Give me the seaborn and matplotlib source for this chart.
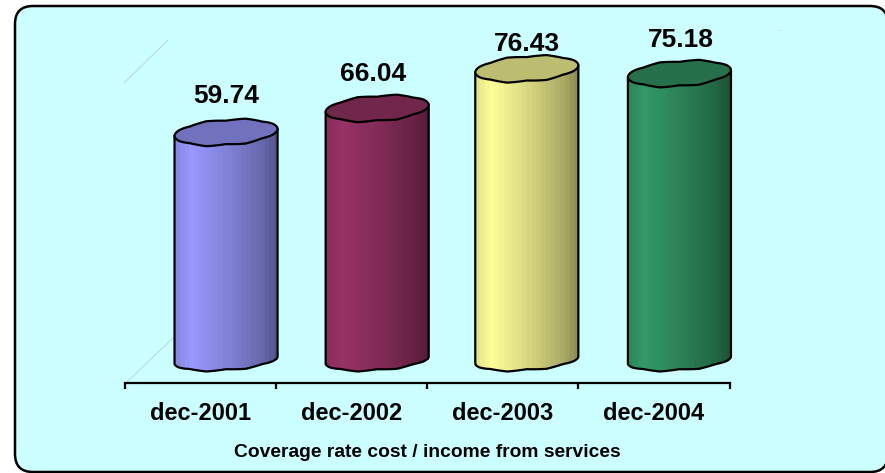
import numpy as np
import pandas as pd
import seaborn as sns
import matplotlib
matplotlib.use("Agg")
import matplotlib.pyplot as plt
from matplotlib.colors import LinearSegmentedColormap, to_rgb
from matplotlib.lines import Line2D
from matplotlib.patches import FancyBboxPatch, Polygon
from matplotlib.transforms import IdentityTransform

categories = ["dec-2001", "dec-2002", "dec-2003", "dec-2004"]
values = [59.74, 66.04, 76.43, 75.18]
colors = ["#9999FF", "#993366", "#FFFF99", "#339966"]
title = "Coverage rate cost / income from services"
label_shift_px = [(0, 36), (-4, 34), (0, 25), (1, 34)]
bar_nudge_px = [0, 0, -1.5, 0]
wobble_px = [0.0, 0.6, -0.8, 0.9, -0.8, 1.0, -0.7, 0.5, 0.0, -0.6, 0.8, -1.0, 0.8, -1.0, 0.8, -0.5]

W, H = 885, 473
sns.set_theme(style="white")
plt.rcParams["font.family"] = ["Liberation Sans", "DejaVu Sans"]

fig = plt.figure(figsize=(W / 100, H / 100), dpi=100, facecolor="white")

# panel
fig.add_artist(FancyBboxPatch((15, H - 472), 873, 466,
                              boxstyle="round,pad=0,rounding_size=18",
                              fc="#CCFFFF", ec="black", lw=1.8,
                              transform=IdentityTransform(), zorder=-3))
# faint wall edges
for (x0, y0), (x1, y1) in [((124, 83), (168, 40)), ((127, 382), (175, 336)), ((779, 30), (780, 30))]:
    fig.add_artist(Line2D([x0, x1], [H - y0, H - y1], color="#B9D6D6", lw=0.7,
                          transform=IdentityTransform(), zorder=-2))

AX_L, AX_R, AX_B, AX_T, BASE_Y, PX_PER_UNIT = 125, 729.5, 382.7, 20, 360, 3.81
ax = fig.add_axes([AX_L / W, 1 - AX_B / H, (AX_R - AX_L) / W, (AX_B - AX_T) / H])
ax.patch.set_alpha(0)

df = pd.DataFrame({"period": categories, "value": values})
sns.barplot(data=df, x="period", y="value", hue="period", palette=colors,
            width=0.682, legend=False, ax=ax, linewidth=0, zorder=1)

ylim = (-(AX_B - BASE_Y) / PX_PER_UNIT, (BASE_Y - AX_T) / PX_PER_UNIT)
px_x = (AX_R - AX_L) / 4.0
offset = 25.5 / px_x
tilt = 3.5 / PX_PER_UNIT
wob_knots = np.array(wobble_px + wobble_px[:1]) / PX_PER_UNIT
knots = np.linspace(0, 2 * np.pi, len(wobble_px) + 1)
n = 96
theta = np.linspace(0, 2 * np.pi, n, endpoint=False)
wob = np.interp(theta, knots, wob_knots) * np.abs(np.sin(theta))


def ring(cx, cy, a, b):
    # counter-clockwise from the right end; the right end sits higher
    xs = cx + a * np.cos(theta)
    ys = cy + b * np.sin(theta) + tilt * np.cos(theta) + wob
    return xs, ys


for patch, v, col, (dx, dy), nudge in zip(ax.patches, values, colors, label_shift_px, bar_nudge_px):
    patch.set_x(patch.get_x() + offset + nudge / px_x)
    x0, w = patch.get_x(), patch.get_width()
    a, cx = w / 2, x0 + w / 2
    base = np.array(to_rgb(col))
    cmap = LinearSegmentedColormap.from_list(
        "cyl", [(0, base * 0.9), (0.14, base), (0.5, base * 0.85), (0.85, base * 0.68), (1, base * 0.56)], N=22)
    tx, ty = ring(cx, v, a, 12.5 / PX_PER_UNIT)
    bx, by = ring(cx, 0, a, 10.0 / PX_PER_UNIT)
    # body: left side, front bottom arc, right side
    front = np.arange(n // 2, n)
    xs = np.r_[x0, bx[front], x0 + w, x0 + w, x0]
    ys = np.r_[v - tilt, by[front], by[0], v + tilt, v - tilt]
    body = Polygon(np.c_[xs, ys], closed=True, fc="none", ec="black", lw=1.6, joinstyle="round",
                   zorder=3, clip_on=False)
    ax.add_patch(body)
    im = ax.imshow(np.linspace(0, 1, 256)[None, :], cmap=cmap, aspect="auto",
                   extent=(x0, x0 + w, -6, v + tilt), zorder=2)
    im.set_clip_path(body)
    top = Polygon(np.c_[tx, ty], closed=True, fc=base * 0.74, ec="black", lw=1.6, joinstyle="round",
                  zorder=4, clip_on=False)
    ax.add_patch(top)
    ax.annotate(f"{v:.2f}", (cx, v), xytext=(dx * 0.72, dy * 0.72), textcoords="offset points",
                ha="center", va="center", fontsize=19, fontweight="bold", color="black", zorder=5)

ax.set_xlim(-0.5, 3.5)
ax.set_ylim(*ylim)
sns.despine(ax=ax, left=True, top=True, right=True)
ax.spines["bottom"].set_linewidth(1.6)
ax.spines["bottom"].set_color("black")
ax.set_yticks([])
ax.set_ylabel("")
ax.set_xticks(range(4))
ax.set_xticklabels(categories, fontsize=17, fontweight="bold", color="black")
ax.set_xticks(np.arange(-0.5, 4), minor=True)
ax.tick_params(axis="x", which="major", length=0, pad=14)
ax.tick_params(axis="x", which="minor", length=4.5, width=1.6, color="black", bottom=True)
ax.set_xlabel(title, fontsize=13.85, fontweight="bold", color="black", labelpad=13.5)

fig.savefig("out.png", dpi=100)
